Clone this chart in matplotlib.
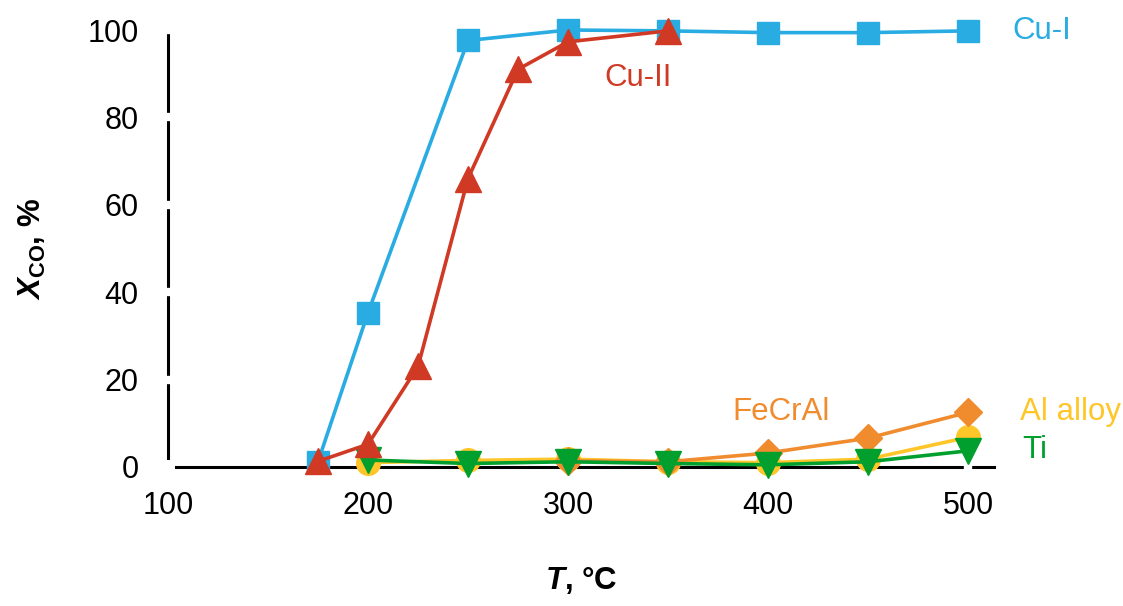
import matplotlib.pyplot as plt

plt.rcParams['font.family'] = ['Liberation Sans', 'DejaVu Sans']
plt.rcParams['mathtext.fontset'] = 'custom'
plt.rcParams['mathtext.rm'] = 'Liberation Sans:bold'
plt.rcParams['mathtext.it'] = 'Liberation Sans:bold:italic'

# Data
t_cu1 = [175, 200, 250, 300, 350, 400, 450, 500]
x_cu1 = [1.2, 35.3, 97.6, 100.0, 99.8, 99.4, 99.4, 99.8]

t_cu2 = [175, 200, 225, 250, 275, 300, 350]
x_cu2 = [1.3, 5.2, 23.0, 66.0, 91.0, 97.3, 99.8]

t_al = [200, 250, 300, 350, 400, 450, 500]
x_al = [1.0, 1.5, 1.8, 1.2, 1.0, 1.8, 6.8]

t_fe = [300, 350, 400, 450, 500]
x_fe = [1.4, 1.2, 3.2, 6.6, 12.5]

t_ti = [200, 250, 300, 350, 400, 450, 500]
x_ti = [1.6, 0.8, 1.2, 0.8, 0.5, 1.2, 3.7]

fig = plt.figure(figsize=(11.23, 6.06), dpi=100)
ax = fig.add_axes([168 / 1123, 1 - 467 / 606, (994 - 168) / 1123, 437 / 606])

kw = dict(lw=2.6, clip_on=False, zorder=3)
ax.plot(t_al, x_al, color='#FFC629', marker='o', ms=17, **kw)
ax.plot(t_fe, x_fe, color='#F08C2E', marker='D', ms=14.5, **kw)
ax.plot(t_ti, x_ti, color='#009F2E', marker='v', ms=18.5, **kw)
ax.plot(t_cu1, x_cu1, color='#29ACE2', marker='s', ms=16.5, **kw)
ax.plot(t_cu2, x_cu2, color='#D03A25', marker='^', ms=18.5, **kw)

ax.set_xlim(100, 513)
ax.set_ylim(0, 100)
ax.set_xticks([100, 200, 300, 400, 500])
ax.set_yticks([0, 20, 40, 60, 80, 100])

for s in ['top', 'right']:
    ax.spines[s].set_visible(False)
for s in ['left', 'bottom']:
    ax.spines[s].set_linewidth(2.2)
    ax.spines[s].set_zorder(1)
ax.xaxis.set_zorder(1.5)
ax.yaxis.set_zorder(1.5)
ax.tick_params(axis='both', direction='inout', length=10, width=6, color='white',
               labelsize=22, labelcolor='black')
ax.tick_params(axis='x', pad=12)
ax.tick_params(axis='y', pad=16)

ax.set_xlabel(r'$T$, °C', fontsize=22.5, fontweight='bold')
ax.set_ylabel(r'$X_{\mathrm{CO}}$, %', fontsize=22.5, fontweight='bold')
ax.xaxis.set_label_coords(0.5, -0.225)
ax.yaxis.set_label_coords(-0.145, 0.5)

ax.text(522, 99.8, 'Cu-I', color='#29ACE2', fontsize=22.5, va='center', ha='left')
ax.text(318, 89, 'Cu-II', color='#D03A25', fontsize=22.5, va='center', ha='left')
ax.text(382, 12.6, 'FeCrAl', color='#F08C2E', fontsize=22.5, va='center', ha='left')
ax.text(526, 12.7, 'Al alloy', color='#FFC629', fontsize=22.5, va='center', ha='left')
ax.text(527, 3.8, 'Ti', color='#009F2E', fontsize=22.5, va='center', ha='left')

fig.savefig('out.png', dpi=100)
